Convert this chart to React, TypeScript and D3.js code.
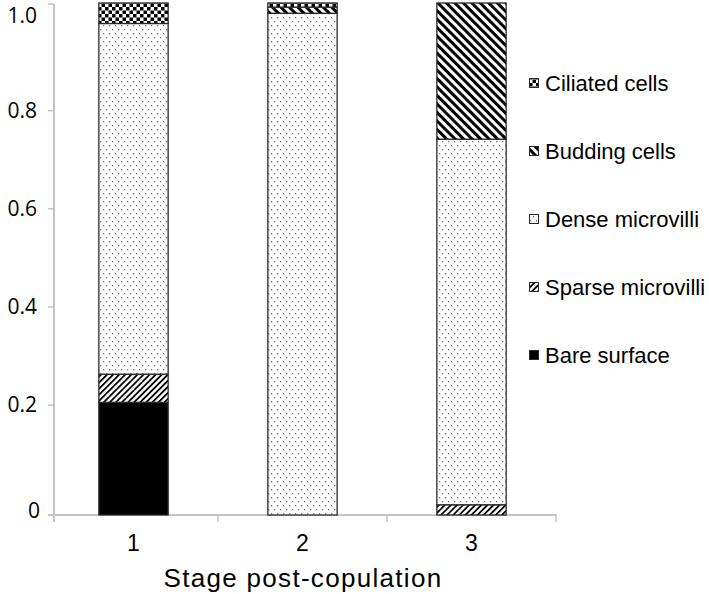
import * as d3 from "d3";
import { useRef, useEffect } from "react";

// stages on the x axis
const stages = ["1", "2", "3"];

// fraction of surface type per stage, bottom to top of the stack
const bareSurface = [0.22, 0, 0];
const sparseMicrovilli = [0.055, 0, 0.02];
const denseMicrovilli = [0.685, 0.98, 0.714];
const buddingCells = [0, 0.012, 0.266];
const ciliatedCells = [0.04, 0.008, 0];

const seriesKeys = ["bare", "sparse", "dense", "budding", "ciliated"];
const seriesNames = ["Bare surface", "Sparse microvilli", "Dense microvilli", "Budding cells", "Ciliated cells"];

const yTickValues = [0, 0.2, 0.4, 0.6, 0.8, 1.0];
const yTickLabels = ["0", "0.2", "0.4", "0.6", "0.8", "1.0"];

const xTitle = "Stage post-copulation";

const App = () => {
  const container = useRef(null);

  useEffect(() => {
    createChart();
  });

  const createChart = () => {
    const width = 709;
    const height = 594;
    const axisGray = "#c4c4c4";
    const barStroke = "#2a2a2a";

    const rows = stages.map((s, i) => ({
      stage: s,
      bare: bareSurface[i],
      sparse: sparseMicrovilli[i],
      dense: denseMicrovilli[i],
      budding: buddingCells[i],
      ciliated: ciliatedCells[i],
    }));

    const stacked = d3.stack().keys(seriesKeys)(rows as any);

    const svg = d3
      .select(container.current)
      .selectAll("svg")
      .data([0])
      .join("svg")
      .attr("width", width)
      .attr("height", height)
      .style("position", "absolute")
      .style("left", 0)
      .style("top", 0)
      .style("background", "#fff");

    svg.selectAll("*").remove();

    // fill patterns
    const defs = svg.append("defs");

    const dense = defs
      .append("pattern")
      .attr("id", "p-dense")
      .attr("patternUnits", "userSpaceOnUse")
      .attr("width", 6)
      .attr("height", 8);
    dense.append("rect").attr("width", 6).attr("height", 8).attr("fill", "#fff");
    dense.append("rect").attr("x", 1).attr("y", 1).attr("width", 1.3).attr("height", 1.3).attr("fill", "#777");
    dense.append("rect").attr("x", 4).attr("y", 5).attr("width", 1.3).attr("height", 1.3).attr("fill", "#777");

    const stripes = (id, size, lw, angle) => {
      const p = defs
        .append("pattern")
        .attr("id", id)
        .attr("patternUnits", "userSpaceOnUse")
        .attr("width", size)
        .attr("height", size)
        .attr("patternTransform", `rotate(${angle})`);
      p.append("rect").attr("width", size).attr("height", size).attr("fill", "#fff");
      p.append("rect").attr("x", 0).attr("y", 0).attr("width", lw).attr("height", size).attr("fill", "#000");
    };
    stripes("p-sparse", 4.3, 1.8, 45);
    stripes("p-budding", 6, 3, -45);

    const checker = defs
      .append("pattern")
      .attr("id", "p-ciliated")
      .attr("patternUnits", "userSpaceOnUse")
      .attr("width", 7)
      .attr("height", 7);
    checker.append("rect").attr("width", 7).attr("height", 7).attr("fill", "#fff");
    checker.append("rect").attr("x", 0).attr("y", 0).attr("width", 3.5).attr("height", 3.5).attr("fill", "#000");
    checker.append("rect").attr("x", 3.5).attr("y", 3.5).attr("width", 3.5).attr("height", 3.5).attr("fill", "#000");

    const fills = {
      bare: "#000",
      sparse: "url(#p-sparse)",
      dense: "url(#p-dense)",
      budding: "url(#p-budding)",
      ciliated: "url(#p-ciliated)",
    };

    // scales
    const xScale = d3.scaleBand().domain(stages).range([49, 556]).padding(0);
    const barWidth = xScale.step() * 0.41;

    const yScale = d3.scaleLinear().domain([0, 1]).range([515, 3]);
    // the printed tick labels sit on a slightly tighter scale than the bars
    const tickScale = d3.scaleLinear().domain([0, 1]).range([503.3, 12.5]);

    // axes
    const axisG = svg.append("g");
    axisG
      .append("line")
      .attr("x1", 54)
      .attr("x2", 54)
      .attr("y1", 4)
      .attr("y2", 522)
      .attr("stroke", axisGray)
      .attr("stroke-width", 2);
    axisG
      .append("line")
      .attr("x1", 48)
      .attr("x2", 557)
      .attr("y1", yScale(0))
      .attr("y2", yScale(0))
      .attr("stroke", axisGray)
      .attr("stroke-width", 2);

    const tickY = (v) => (v === 0 || v === 1 ? yScale(v) + (v === 1 ? 1 : 0) : tickScale(v));
    axisG
      .selectAll(".ytick")
      .data(yTickValues)
      .join("line")
      .attr("class", "ytick")
      .attr("x1", 48)
      .attr("x2", 54)
      .attr("y1", (d) => tickY(d))
      .attr("y2", (d) => tickY(d))
      .attr("stroke", axisGray)
      .attr("stroke-width", 1.5);

    const labelY = (v) => {
      if (v === 0) return yScale(0) - 4;
      if (v === 1) return tickScale(1) + 3;
      return tickScale(v);
    };
    axisG
      .selectAll(".ylabel")
      .data(yTickValues)
      .join("text")
      .attr("class", "ylabel")
      .attr("x", (d) => (d === 0 ? 40 : 37))
      .attr("y", (d) => labelY(d))
      .attr("dy", "0.35em")
      .attr("text-anchor", "end")
      .style("font-family", "'Open Sans', sans-serif")
      .style("font-size", "21px")
      .attr("fill", "#000")
      .text((d, i) => yTickLabels[i]);

    const bounds = [...stages.map((s) => xScale(s)), 556];
    axisG
      .selectAll(".xtick")
      .data(bounds.slice(1))
      .join("line")
      .attr("class", "xtick")
      .attr("x1", (d) => d)
      .attr("x2", (d) => d)
      .attr("y1", yScale(0))
      .attr("y2", yScale(0) + 7)
      .attr("stroke", axisGray)
      .attr("stroke-width", 1.5);

    axisG
      .selectAll(".xlabel")
      .data(stages)
      .join("text")
      .attr("class", "xlabel")
      .attr("x", (d) => xScale(d) + xScale.bandwidth() / 2)
      .attr("y", 551)
      .attr("text-anchor", "middle")
      .style("font-family", "'Liberation Sans', Arial, sans-serif")
      .style("font-size", "23px")
      .attr("fill", "#000")
      .text((d) => d);

    svg
      .append("text")
      .attr("x", 303)
      .attr("y", 587)
      .attr("text-anchor", "middle")
      .style("font-family", "'Liberation Sans', Arial, sans-serif")
      .style("font-size", "26px")
      .style("letter-spacing", "1.3px")
      .attr("fill", "#000")
      .text(xTitle);

    // stacked bars
    const plot_g = svg.append("g");
    stacked.forEach((layer) => {
      plot_g
        .selectAll(`.seg-${layer.key}`)
        .data(layer.filter((d) => d[1] - d[0] > 0))
        .join("rect")
        .attr("class", `seg-${layer.key}`)
        .attr("x", (d) => xScale(d.data.stage) + (xScale.bandwidth() - barWidth) / 2)
        .attr("width", barWidth)
        .attr("y", (d) => yScale(d[1]))
        .attr("height", (d) => yScale(d[0]) - yScale(d[1]))
        .attr("fill", fills[layer.key])
        .attr("stroke", barStroke)
        .attr("stroke-width", 1.3);
    });

    // legend, top to bottom is reverse of stack
    const legendKeys = [...seriesKeys].reverse();
    const legendNames = [...seriesNames].reverse();
    const legend_g = svg.append("g");
    const item = legend_g
      .selectAll(".legend-item")
      .data(legendKeys)
      .join("g")
      .attr("class", "legend-item")
      .attr("transform", (d, i) => `translate(529, ${83 + i * 68})`);
    item
      .append("rect")
      .attr("x", 0.5)
      .attr("y", -4.5)
      .attr("width", 9)
      .attr("height", 9)
      .attr("fill", (d) => fills[d])
      .attr("stroke", barStroke)
      .attr("stroke-width", 1);
    item
      .append("text")
      .attr("x", 16)
      .attr("y", 0)
      .attr("dy", "0.35em")
      .style("font-family", "'Liberation Sans', Arial, sans-serif")
      .style("font-size", "22px")
      .attr("fill", "#000")
      .text((d, i) => legendNames[i]);

    return;
  };

  return <div ref={container}></div>;
};

export default App;
